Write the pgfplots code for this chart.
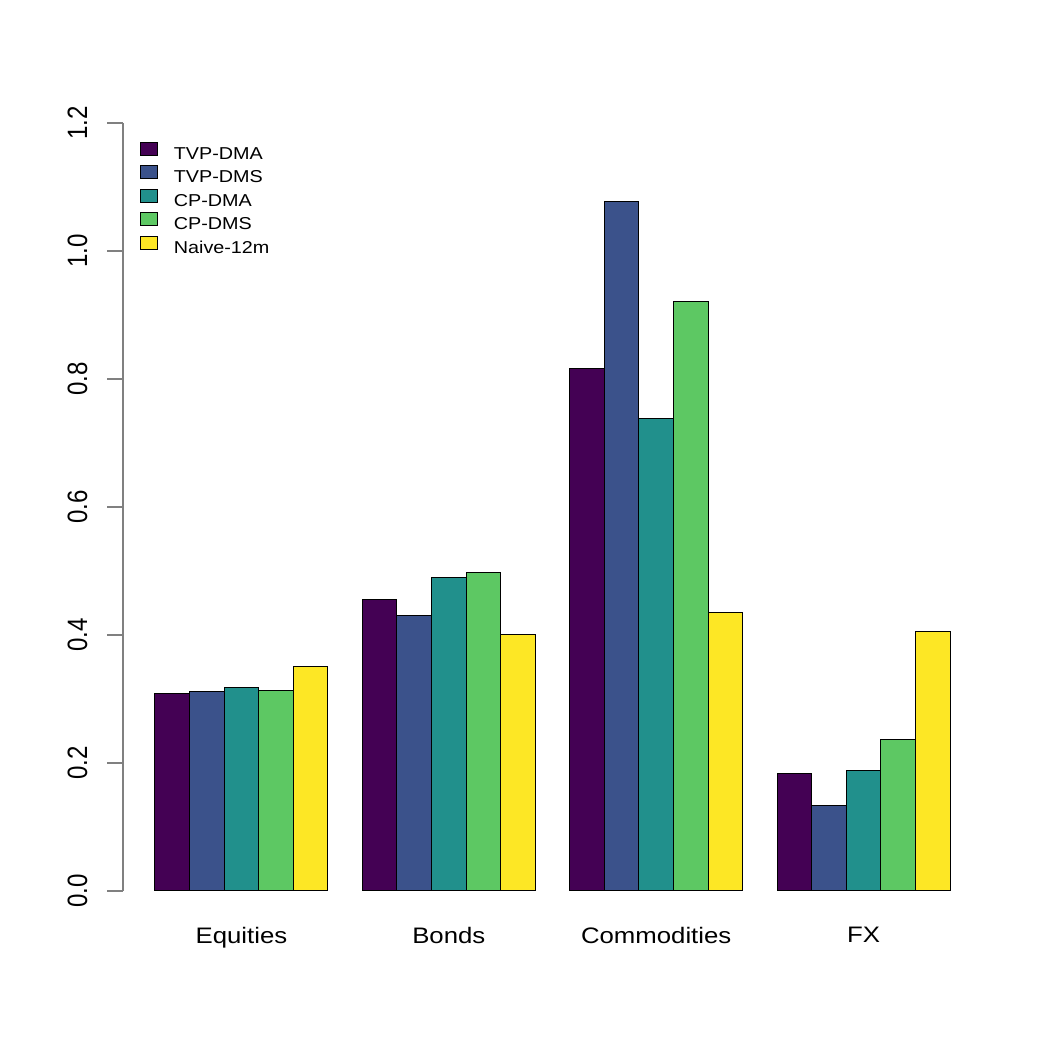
\documentclass[border=0pt]{standalone}
\usepackage{pgfplots}
\pgfplotsset{compat=1.18}
\usepackage{fontspec}
\setmainfont{Liberation Sans}
\newfontfamily\hfont[FakeStretch=1.15]{Liberation Sans}
\newfontfamily\vfont[FakeStretch=0.86]{Liberation Sans}
\definecolor{v1}{HTML}{440154}
\definecolor{v2}{HTML}{3B528B}
\definecolor{v3}{HTML}{21908C}
\definecolor{v4}{HTML}{5DC863}
\definecolor{v5}{HTML}{FDE725}
\begin{document}
\begin{tikzpicture}
\useasboundingbox (0pt,0pt) rectangle (522.5pt,522.5pt);
\begin{axis}[
  at={(61.6pt,61.65pt)}, anchor=south west,
  scale only axis,
  width=429.3pt, height=414.7pt,
  xmin=0.08, xmax=24.92,
  ymin=-0.048, ymax=1.248,
  axis line style={draw=none},
  xtick={3.5,9.5,15.5,21.5},
  xticklabels={Equities,Bonds,Commodities,FX},
  x tick style={draw=none},
  xticklabel style={font=\hfont\fontsize{11.2}{13}\selectfont, anchor=north, inner sep=0pt, yshift=5.5pt},
  ytick={0,0.2,0.4,0.6,0.8,1.0,1.2},
  yticklabels={0.0,0.2,0.4,0.6,0.8,1.0,1.2},
  tick align=outside,
  ytick pos=left,
  major tick length=8pt,
  y tick style={black!50, line width=0.8pt},
  yticklabel style={xshift=-10pt, rotate=90, font=\vfont\fontsize{14}{16}\selectfont, anchor=base, inner sep=0pt},
  /pgf/number format/assume math mode=true,
  legend style={at={(rel axis cs:0.0196,0.9401)}, anchor=north west, draw=none, fill=none,
    inner sep=0pt, outer sep=0pt, row sep=3.0pt, column sep=8pt,
    nodes={inner sep=0pt, text height=6.5pt, text depth=0pt, font=\hfont\fontsize{8.6}{10}\selectfont}},
  legend cell align=left,
  legend image code/.code={\draw[#1, draw=black, line width=0.4pt] (0pt,-1.2pt) rectangle (8.5pt,5.3pt);},
  clip=false,
]
\addplot[ybar, bar width=1, bar shift=0pt, fill=v1, draw=black, line width=0.5pt] coordinates {(1.5,0.309) (7.5,0.4547) (13.5,0.817) (19.5,0.184)};
\addlegendentry{TVP-DMA}
\addplot[ybar, bar width=1, bar shift=0pt, fill=v2, draw=black, line width=0.5pt] coordinates {(2.5,0.312) (8.5,0.431) (14.5,1.078) (20.5,0.133)};
\addlegendentry{TVP-DMS}
\addplot[ybar, bar width=1, bar shift=0pt, fill=v3, draw=black, line width=0.5pt] coordinates {(3.5,0.318) (9.5,0.4895) (15.5,0.739) (21.5,0.1875)};
\addlegendentry{CP-DMA}
\addplot[ybar, bar width=1, bar shift=0pt, fill=v4, draw=black, line width=0.5pt] coordinates {(4.5,0.3125) (10.5,0.4984) (16.5,0.921) (22.5,0.237)};
\addlegendentry{CP-DMS}
\addplot[ybar, bar width=1, bar shift=0pt, fill=v5, draw=black, line width=0.5pt] coordinates {(5.5,0.351) (11.5,0.401) (17.5,0.435) (23.5,0.405)};
\addlegendentry{Naive-12m}
\draw[black!50, line width=0.8pt] (axis cs:0.08,0) -- (axis cs:0.08,1.2);
\end{axis}
\end{tikzpicture}
\end{document}
